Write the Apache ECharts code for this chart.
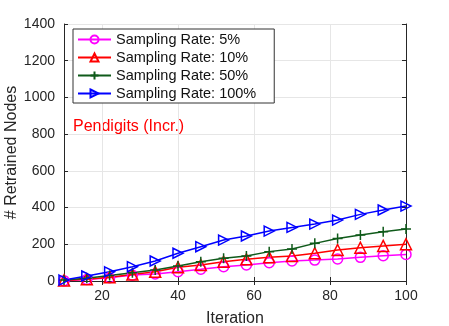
<!DOCTYPE html>
<html>
<head>
<meta charset="utf-8">
<script src="https://cdn.jsdelivr.net/npm/echarts@6/dist/echarts.min.js"></script>
<style>
  html, body { margin: 0; padding: 0; background: #fff; }
  #chart { width: 449px; height: 326px; }
</style>
</head>
<body>
<div id="chart"></div>
<script>
var iterations = [10, 16, 22, 28, 34, 40, 46, 52, 58, 64, 70, 76, 82, 88, 94, 100];
var rate5 = [2, 8, 18, 32, 38, 51, 64, 78, 87, 100, 109, 114, 120, 129, 138, 145];
var rate10 = [3, 10, 20, 35, 50, 75, 87, 105, 118, 129, 136, 151, 169, 181, 191, 200];
var rate50 = [5, 15, 30, 45, 60, 82, 105, 124, 136, 160, 174, 205, 232, 250, 268, 283];
var rate100 = [5, 27, 50, 78, 109, 151, 187, 223, 245, 272, 292, 310, 332, 363, 387, 408];
var xTicks = [20, 40, 60, 80, 100];
var seriesNames = ['Sampling Rate: 5%', 'Sampling Rate: 10%', 'Sampling Rate: 50%', 'Sampling Rate: 100%'];

var myChart = echarts.init(document.getElementById('chart'));

function pairs(vals) {
    return iterations.map(function (x, i) { return [x, vals[i]]; });
}

var rightTri = 'path://M0,0 L10,5 L0,10 Z';
var plus = 'path://M5,0 L5,10 M0,5 L10,5';

function makeSeries(name, vals, color, symbol, size) {
    return {
        name: name,
        type: 'line',
        data: pairs(vals),
        symbol: symbol,
        symbolSize: size,
        showAllSymbol: true,
        lineStyle: { color: color, width: 1.5 },
        itemStyle: { color: 'rgba(255,255,255,0)', borderColor: color, borderWidth: 1.5 },
        emphasis: { disabled: true },
        animation: false
    };
}

var series = [
    makeSeries(seriesNames[0], rate5, '#ff00ff', 'circle', 10),
    makeSeries(seriesNames[1], rate10, '#ff0000', 'triangle', 11),
    makeSeries(seriesNames[2], rate50, '#0f5a1a', plus, 10),
    makeSeries(seriesNames[3], rate100, '#0000ff', rightTri, 10)
];

var textColor = '#262626';
var font = 'Liberation Sans';

myChart.setOption({
    backgroundColor: '#fff',
    animation: false,
    grid: { left: 64, right: 43, top: 24, bottom: 45, outerBoundsMode: 'none', containLabel: false },
    legend: {
        data: seriesNames,
        orient: 'vertical',
        left: 73,
        top: 29,
        itemWidth: 33,
        itemHeight: 10,
        itemGap: 3,
        padding: [3, 18, 2, 4],
        borderColor: '#333',
        borderWidth: 1,
        backgroundColor: '#fff',
        textStyle: { fontSize: 14.5, color: '#111', fontFamily: font }
    },
    graphic: [{
        type: 'text',
        left: 73,
        top: 119,
        style: { text: 'Pendigits (Incr.)', fill: '#ff0000', fontSize: 16, fontFamily: font }
    }],
    xAxis: [{
        type: 'value',
        min: 10,
        max: 100,
        name: 'Iteration',
        nameLocation: 'middle',
        nameGap: 30,
        nameMoveOverlap: false,
        nameTextStyle: { fontSize: 16, color: textColor, fontFamily: font },
        axisLine: { lineStyle: { color: '#262626' } },
        axisTick: { inside: true, length: 4, customValues: xTicks, lineStyle: { color: '#262626' } },
        axisLabel: { customValues: xTicks, fontSize: 14, color: textColor, margin: 8, fontFamily: font },
        splitLine: { show: true, lineStyle: { color: '#e6e6e6' } }
    }, {
        type: 'value',
        position: 'top',
        min: 10,
        max: 100,
        axisLine: { show: true, lineStyle: { color: '#262626' } },
        axisTick: { show: true, inside: true, length: 4, customValues: xTicks, lineStyle: { color: '#262626' } },
        axisLabel: { show: false },
        splitLine: { show: false }
    }],
    yAxis: [{
        type: 'value',
        min: 0,
        max: 1400,
        interval: 200,
        name: '# Retrained Nodes',
        nameLocation: 'middle',
        nameGap: 44,
        nameMoveOverlap: false,
        nameTextStyle: { fontSize: 16, color: textColor, fontFamily: font },
        axisLine: { show: true, lineStyle: { color: '#262626' } },
        axisTick: { show: true, inside: true, length: 4, lineStyle: { color: '#262626' } },
        axisLabel: { fontSize: 14, color: textColor, margin: 9, fontFamily: font, formatter: function (v) { return String(v); } },
        splitLine: { show: true, lineStyle: { color: '#e6e6e6' } }
    }, {
        type: 'value',
        position: 'right',
        min: 0,
        max: 1400,
        interval: 200,
        axisLine: { show: true, lineStyle: { color: '#262626' } },
        axisTick: { show: true, inside: true, length: 4, lineStyle: { color: '#262626' } },
        axisLabel: { show: false },
        splitLine: { show: false }
    }],
    series: series
});
</script>
</body>
</html>
